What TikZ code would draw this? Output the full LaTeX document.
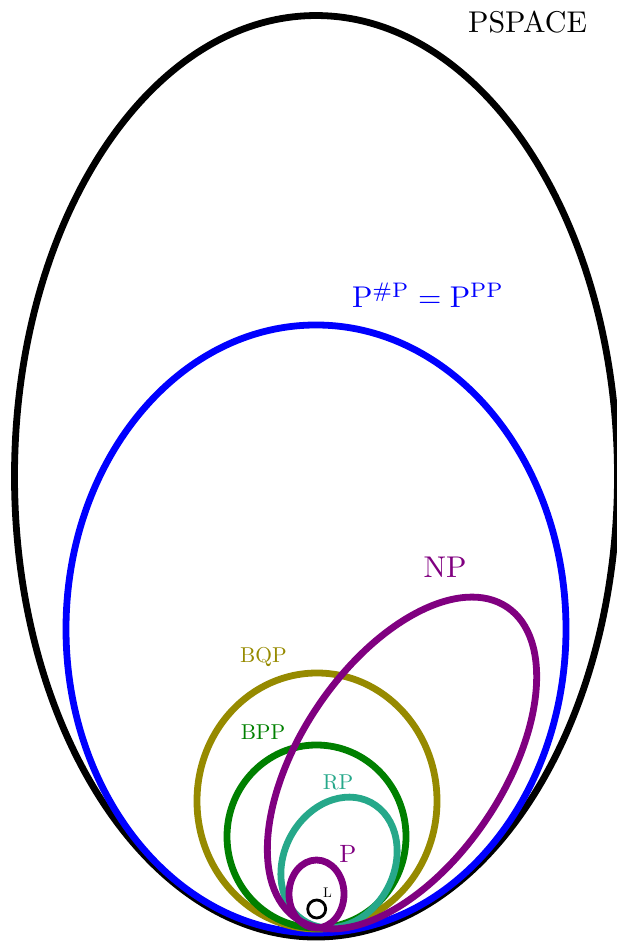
\RequirePackage{fix-cm}
\documentclass[tikz,border=0pt]{standalone}
\usepackage{amssymb}
\usepackage{amsmath}
\usepackage{tikz}

\definecolor{npcol}{RGB}{128,0,128}
\definecolor{bqpcol}{RGB}{150,138,0}
\definecolor{bppcol}{RGB}{0,128,0}
\definecolor{rpcol}{RGB}{38,168,138}

\begin{document}
\begin{tikzpicture}[x=1pt,y=1pt,
			cls/.style={line width=6.8pt},
			name big/.style={anchor=base,inner sep=0pt,scale=3,transform shape},
			name mid/.style={anchor=base,inner sep=0pt,scale=2.15,transform shape},
			name small/.style={anchor=base,inner sep=0pt,scale=1.4,transform shape}]
			\useasboundingbox (0,0) rectangle (616,941);
			% classes, from the outside in
			\draw[cls,black] (316,464.7) ellipse [x radius=301.5, y radius=460.75];
			\draw[cls,blue] (316,312) ellipse [x radius=250, y radius=304];
			\draw[cls,bqpcol] (317,140) ellipse [x radius=120, y radius=128];
			\draw[cls,bppcol] (316.5,104.5) ellipse [x radius=89.5, y radius=91.5];
			\draw[cls,rpcol,rotate around={62:(339,78.5)}] (339,78.5) ellipse [x radius=68, y radius=55];
			\draw[cls,npcol,rotate around={56:(402,178)}] (402,178) ellipse [x radius=188, y radius=101.5];
			\draw[cls,npcol] (316.5,47) ellipse [x radius=27.5, y radius=34];
			\draw[line width=2.8pt,black] (316.7,32) circle [radius=9];
			% names
			\node[name big] (pspace) at (527.5,908) {PSPACE};
			\node[name big,text=blue] (sharpp) at (428,633) {$\mathrm{P}^{\#\mathrm{P}}=\mathrm{P}^{\mathrm{PP}}$};
			\node[name big,text=npcol] (np) at (445,363) {NP};
			\node[name mid,text=bqpcol] (bqp) at (263.5,278) {BQP};
			\node[name mid,text=bppcol] (bpp) at (263,201) {BPP};
			\node[name mid,text=rpcol] (rp) at (338,151) {RP};
			\node[name big,text=npcol,scale=2.5/3] (p) at (348,78) {P};
			\node[name small] (l) at (327.5,43) {L};
\end{tikzpicture}
\end{document}
